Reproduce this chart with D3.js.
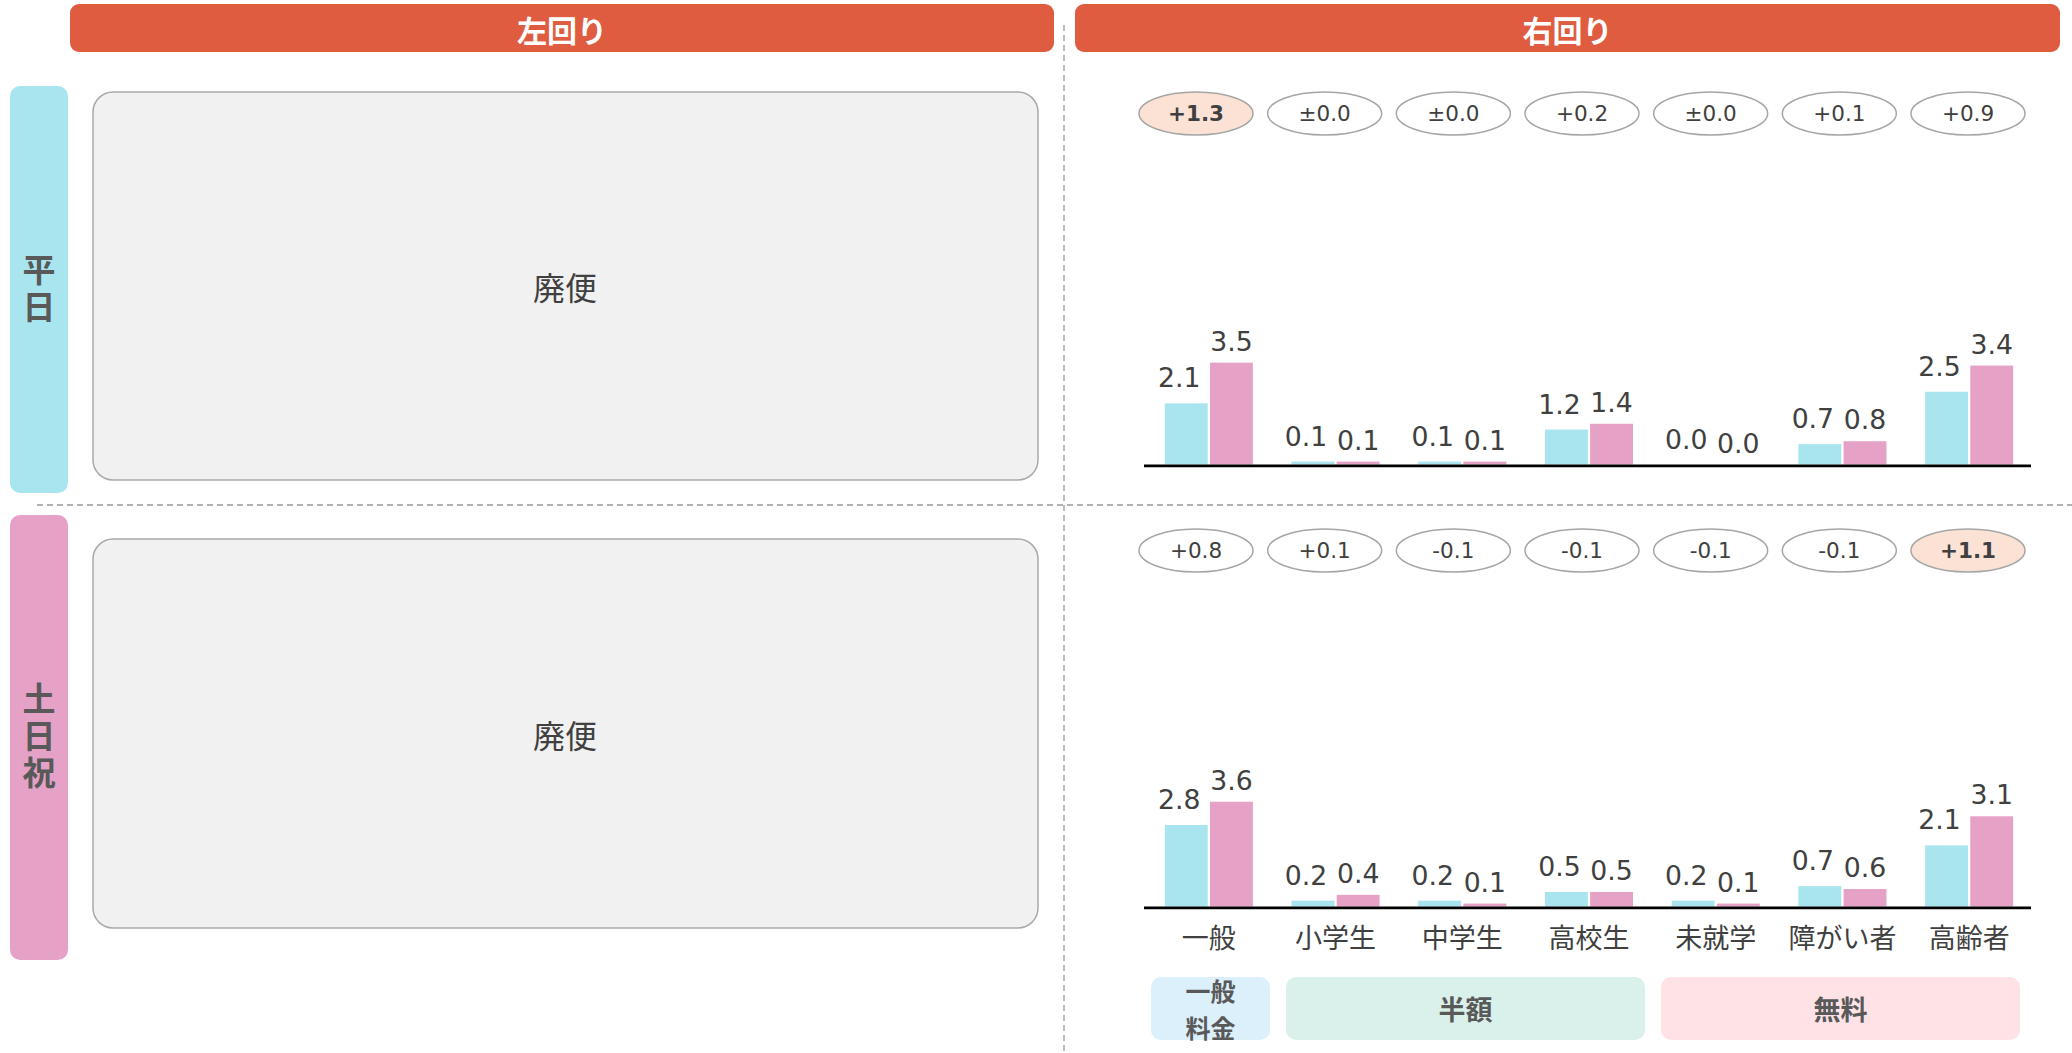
<!DOCTYPE html>
<html>
<head>
<meta charset="utf-8">
<script src="https://cdn.jsdelivr.net/npm/d3@7"></script>
<style>
	body { margin: 0; background: #fff; }
	svg { display: block; }
</style>
</head>
<body>
<div id="chart"></div>
<script>

// categories along the x axis
var categories = ["一般", "小学生", "中学生", "高校生", "未就学", "障がい者", "高齢者"];

// 平日 values (before / after)
var weekdayBefore = [2.1, 0.1, 0.1, 1.2, 0.0, 0.7, 2.5];
var weekdayAfter = [3.5, 0.1, 0.1, 1.4, 0.0, 0.8, 3.4];
var weekdayDiff = ["+1.3", "±0.0", "±0.0", "+0.2", "±0.0", "+0.1", "+0.9"];

// 土日祝 values (before / after)
var holidayBefore = [2.8, 0.2, 0.2, 0.5, 0.2, 0.7, 2.1];
var holidayAfter = [3.6, 0.4, 0.1, 0.5, 0.1, 0.6, 3.1];
var holidayDiff = ["+0.8", "+0.1", "-0.1", "-0.1", "-0.1", "-0.1", "+1.1"];

// fee groups under the axis (label lines, number of categories covered)
var feeLabels = [["一般", "料金"], ["半額"], ["無料"]];
var feeCounts = [1, 3, 3];

var headers = ["左回り", "右回り"];
var rowLabels = ["平日", "土日祝"];
var closedText = "廃便";

var CYAN = "#a9e5ee",
	PINK = "#e6a1c6",
	RED = "#e05c40",
	TEXT = "#404040",
	GRAYTEXT = "#595959",
	NUMFONT = "'DejaVu Sans', Verdana, sans-serif",
	JPFONT = "'Noto Sans CJK JP', 'Noto Sans', sans-serif";

var svg = d3.select("#chart").append("svg")
	.attr("width", 2072)
	.attr("height", 1053);

// dashed dividers
svg.append("line")
	.attr("x1", 1064).attr("x2", 1064)
	.attr("y1", 25).attr("y2", 1053)
	.attr("stroke", "#999")
	.attr("stroke-width", 1.3)
	.attr("stroke-dasharray", "6,4");
svg.append("line")
	.attr("x1", 37).attr("x2", 2072)
	.attr("y1", 505).attr("y2", 505)
	.attr("stroke", "#999")
	.attr("stroke-width", 1.3)
	.attr("stroke-dasharray", "6,4");

// column headers
var headerBoxes = [[70, 1054], [1075, 2060]];
headers.forEach(function(h, i) {
	var b = headerBoxes[i];
	svg.append("rect")
		.attr("x", b[0]).attr("y", 4)
		.attr("width", b[1] - b[0]).attr("height", 48)
		.attr("rx", 9)
		.attr("fill", RED);
	svg.append("text")
		.attr("x", (b[0] + b[1]) / 2).attr("y", 29)
		.attr("text-anchor", "middle")
		.attr("dominant-baseline", "central")
		.attr("font-family", JPFONT)
		.attr("font-weight", 700)
		.attr("font-size", 30)
		.attr("fill", "#fff")
		.text(h);
});

// row panels
var rows = [
	{ top: 86, bottom: 493, box: [92, 480], color: CYAN, base: 464.5, oval: 113.5,
	  before: weekdayBefore, after: weekdayAfter, diff: weekdayDiff },
	{ top: 515, bottom: 960, box: [539, 928], color: PINK, base: 906.5, oval: 550.5,
	  before: holidayBefore, after: holidayAfter, diff: holidayDiff }
];

// x scales shared by both panels
var x0 = d3.scaleBand()
	.domain(categories)
	.range([1145.5, 2032.5])
	.paddingInner(0.305)
	.paddingOuter(0.1525);
var x1 = d3.scaleBand()
	.domain(["before", "after"])
	.range([0, x0.bandwidth()])
	.paddingInner(0.05);
var xo = d3.scalePoint()
	.domain(categories)
	.range([1196, 1968]);

rows.forEach(function(r, ri) {

	// side label, written vertically
	svg.append("rect")
		.attr("x", 10).attr("y", r.top)
		.attr("width", 58).attr("height", r.bottom - r.top)
		.attr("rx", 10)
		.attr("fill", r.color);
	svg.append("text")
		.attr("x", 39)
		.attr("y", (r.top + r.bottom) / 2)
		.attr("writing-mode", "vertical-rl")
		.attr("text-anchor", "middle")
		.attr("letter-spacing", 4)
		.attr("font-family", JPFONT)
		.attr("font-weight", 700)
		.attr("font-size", 33)
		.attr("fill", GRAYTEXT)
		.text(rowLabels[ri]);

	// left side: discontinued route
	svg.append("rect")
		.attr("x", 93).attr("y", r.box[0])
		.attr("width", 945).attr("height", r.box[1] - r.box[0])
		.attr("rx", 20)
		.attr("fill", "#f1f1f1")
		.attr("stroke", "#a9a9a9")
		.attr("stroke-width", 1.5);
	svg.append("text")
		.attr("x", 565).attr("y", (r.box[0] + r.box[1]) / 2)
		.attr("text-anchor", "middle")
		.attr("dominant-baseline", "central")
		.attr("font-family", JPFONT)
		.attr("font-size", 32)
		.attr("fill", TEXT)
		.text(closedText);

	// difference ovals
	var maxI = d3.maxIndex(r.diff, function(d) { return +d.replace("±", ""); });
	var ov = svg.append("g").selectAll("g")
		.data(r.diff)
		.enter()
		.append("g")
		.attr("transform", function(d, i) { return "translate(" + xo(categories[i]) + "," + r.oval + ")"; });
	ov.append("ellipse")
		.attr("rx", 57).attr("ry", 21.5)
		.attr("fill", function(d, i) { return i === maxI ? "#fbe2d5" : "#fff"; })
		.attr("stroke", "#a6a6a6")
		.attr("stroke-width", 1.5);
	ov.append("text")
		.attr("text-anchor", "middle")
		.attr("dominant-baseline", "central")
		.attr("font-family", NUMFONT)
		.attr("font-weight", function(d, i) { return i === maxI ? 700 : 400; })
		.attr("font-size", 21.5)
		.attr("fill", TEXT)
		.text(function(d) { return d; });

	// bars
	var y = d3.scaleLinear().domain([0, 4]).range([r.base, r.base - 116.4]);
	var pairs = categories.map(function(c, i) {
		return [{ cat: c, key: "before", v: r.before[i] }, { cat: c, key: "after", v: r.after[i] }];
	});
	var grp = svg.append("g").selectAll("g")
		.data(pairs)
		.enter()
		.append("g")
		.attr("transform", function(d) { return "translate(" + x0(d[0].cat) + ",0)"; });
	grp.selectAll("rect")
		.data(function(d) { return d; })
		.enter()
		.append("rect")
		.attr("x", function(d) { return x1(d.key); })
		.attr("y", function(d) { return y(d.v); })
		.attr("width", x1.bandwidth())
		.attr("height", function(d) { return y(0) - y(d.v); })
		.attr("fill", function(d) { return d.key === "before" ? CYAN : PINK; });
	grp.selectAll("text")
		.data(function(d) { return d; })
		.enter()
		.append("text")
		.attr("x", function(d) { return x1(d.key) + x1.bandwidth() / 2 + (d.key === "before" ? -7 : 0); })
		.attr("y", function(d) { return y(d.v) - (d.key === "before" ? 16 : 12); })
		.attr("text-anchor", "middle")
		.attr("font-family", NUMFONT)
		.attr("font-size", 26.7)
		.attr("fill", TEXT)
		.text(function(d) { return d.v.toFixed(1); });

	// baseline
	svg.append("line")
		.attr("x1", 1144).attr("x2", 2031)
		.attr("y1", r.base + 1.3).attr("y2", r.base + 1.3)
		.attr("stroke", "#000")
		.attr("stroke-width", 2.7);

	// category labels only under the lower panel
	if (ri === 1) {
		svg.append("g").selectAll("text")
			.data(categories)
			.enter()
			.append("text")
			.attr("x", function(d) { return x0(d) + x0.bandwidth() / 2; })
			.attr("y", 936)
			.attr("text-anchor", "middle")
			.attr("dominant-baseline", "central")
			.attr("font-family", JPFONT)
			.attr("font-size", 27)
			.attr("fill", TEXT)
			.text(function(d) { return d; });
	}
});

// fee group boxes: one unit per category, fixed gap between boxes
var feeColors = ["#dcf0fc", "#d9f1ea", "#fee2e5"],
	unit = 120,
	gap = 15,
	left = 1151;
feeCounts.forEach(function(n, i) {
	var a = left,
		b = left + n * unit - 1,
		lines = feeLabels[i];
	left = b + 1 + gap;
	svg.append("rect")
		.attr("x", a).attr("y", 977)
		.attr("width", b - a).attr("height", 63)
		.attr("rx", 10)
		.attr("fill", feeColors[i]);
	svg.append("g").selectAll("text")
		.data(lines)
		.enter()
		.append("text")
		.attr("x", (a + b) / 2)
		.attr("y", function(d, j) { return 1008.5 + (j - (lines.length - 1) / 2) * 36.5; })
		.attr("text-anchor", "middle")
		.attr("dominant-baseline", "central")
		.attr("font-family", JPFONT)
		.attr("font-weight", 700)
		.attr("font-size", lines.length > 1 ? 25 : 27)
		.attr("fill", GRAYTEXT)
		.text(function(d) { return d; });
});

</script>
</body>
</html>
